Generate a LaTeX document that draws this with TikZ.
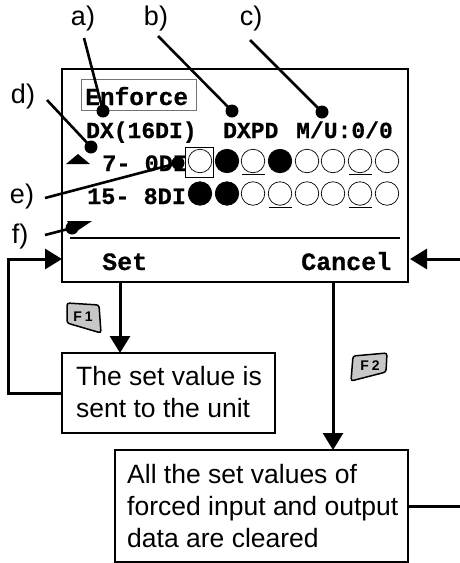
\documentclass[tikz,border=0pt]{standalone}
\usepackage{fontspec}
\setmainfont{Liberation Sans}
\newfontfamily\lcdfont{Liberation Mono}[BoldFeatures={FakeBold=0.6}]
\usetikzlibrary{arrows.meta}
\tikzset{
  x=1pt,y=-1pt,
  lab/.style={inner sep=0pt,font=\fontsize{27}{27}\selectfont},
  lcd/.style={inner sep=0pt,anchor=base west,font=\lcdfont\bfseries\fontsize{23}{23}\selectfont},
  lcdrow/.style={inner sep=0pt,anchor=base west,font=\lcdfont\bfseries\fontsize{23.5}{23.5}\selectfont},
  softkey/.style={inner sep=0pt,anchor=base west,font=\lcdfont\bfseries\fontsize{25}{25}\selectfont},
  msg/.style={inner sep=0pt,anchor=base west,font=\fontsize{26.5}{26.5}\selectfont},
  frame/.style={draw=black,line width=2.2pt,fill=white,outer sep=0pt},
  flow/.style={line width=3pt,-{Triangle[length=17pt,width=20pt]}},
  plain/.style={line width=3pt},
  leader/.style={line width=2.6pt},
  dotmark/.style={circle,fill=black,inner sep=0pt,minimum size=13pt},
  led/.style={circle,draw=black,line width=0.7pt,fill=white,inner sep=0pt,minimum size=23.5pt},
  ledon/.style={led,fill=black},
  uline/.style={line width=1pt},
  keycap/.style={draw=black,line width=1.5pt,fill=black!22,rounded corners=2.5pt},
  keytext/.style={inner sep=0pt,font=\bfseries\fontsize{14}{14}\selectfont},
}
\begin{document}
\begin{tikzpicture}
\useasboundingbox (0,0) rectangle (460,563);
% screen
\node[frame,anchor=north west,minimum width=346pt,minimum height=213pt,inner sep=0pt] (screen) at (62,69) {};
\node[draw=black!55,line width=0.9pt,anchor=north west,minimum width=115pt,minimum height=31pt,inner sep=0pt,outer sep=0pt] (enfbox) at (81,79) {};
\node[lcd,font=\lcdfont\bfseries\fontsize{24.5}{24.5}\selectfont] (enforce) at (85,105) {Enforce};
\node[lcd] (dx) at (86,138) {DX(16DI)};
\node[lcd] (dxpd) at (223,138) {DXPD};
\node[lcd] (mu) at (296,138) {M/U:0/0};
\node[lcdrow] (row1) at (88,171) {\ 7- 0DI};
\node[lcdrow] (row2) at (87,204) {15- 8DI};
% LEDs
\node[draw=black,line width=1pt,fill=white,minimum width=28pt,minimum height=30pt,inner sep=0pt] (cursor) at (199,162) {};
\foreach \n/\x/\s in {a/200/led,b/227/ledon,c/253/led,d/280/ledon,e/307/led,f/333/led,g/360/led,h/387/led}
  \node[\s] (r1\n) at (\x,161) {};
\foreach \n/\x/\s in {a/200/ledon,b/227/ledon,c/253/led,d/280/led,e/307/led,f/333/led,g/360/led,h/387/led}
  \node[\s] (r2\n) at (\x,193.5) {};
\draw[uline] (242,174) -- (265,174);
\draw[uline] (349,174) -- (372,174);
\draw[uline] (269,207) -- (292,207);
\draw[uline] (349,207) -- (372,207);
% scroll marks
\fill (66,164) -- (90,164) -- (78,154) -- cycle;
\fill (67,221) -- (92,221) -- (74,233) -- cycle;
\coordinate (hrl) at (70,238);
\coordinate (hrr) at (400,238);
\draw[line width=2.2pt] (hrl) -- (hrr);
\node[softkey] (set) at (102,270) {Set};
\node[softkey] (cancel) at (301,270) {Cancel};
% callouts
\node[lab] (la) at (83,19) {a)};
\node[lab] (lb) at (156,19) {b)};
\node[lab] (lc) at (251,19) {c)};
\node[lab] (ld) at (23,97) {d)};
\node[lab] (le) at (22,197) {e)};
\node[lab] (lf) at (20,237) {f)};
\node[dotmark] (da) at (103,111) {};
\node[dotmark] (db) at (232,111) {};
\node[dotmark] (dc) at (322,112) {};
\node[dotmark] (dd) at (91,147) {};
\node[dotmark] (de) at (178,163) {};
\node[dotmark] (df) at (72,228) {};
\coordinate (sa) at (84,38);
\coordinate (sb) at (158,36);
\coordinate (sc) at (250,40);
\coordinate (sd) at (47,100);
\coordinate (se) at (45,198);
\coordinate (sf) at (45,235);
\draw[leader] (sa) -- (da.center);
\draw[leader] (sb) -- (db.center);
\draw[leader] (sc) -- (dc.center);
\draw[leader] (sd) -- (dd.center);
\draw[leader] (se) -- (de.center);
\draw[leader] (sf) -- (df.center);
% message boxes
\node[frame,anchor=north west,minimum width=213pt,minimum height=80pt,inner sep=0pt] (box1) at (62,353) {};
\node[msg] (t1a) at (76,385) {The set value is};
\node[msg] (t1b) at (76,417) {sent to the unit};
\node[frame,anchor=north west,minimum width=293pt,minimum height=112pt,inner sep=0pt] (box2) at (115,450) {};
\node[msg] (t2a) at (127,483) {All the set values of};
\node[msg] (t2b) at (127,515) {forced input and output};
\node[msg] (t2c) at (127,547) {data are cleared};
% keys
\draw[keycap] (67,303) -- (99,305) -- (101,333) -- (67,323) -- cycle;
\node[keytext] (f1) at (83,317) {F\hspace{3pt}1};
\draw[keycap] (353,356) -- (387,353) -- (386,372) -- (351,381) -- cycle;
\node[keytext] (f2) at (370,366) {F\hspace{3pt}2};
% connectors
\coordinate (lt) at (8,259);
\coordinate (re) at (460,259);
\draw[flow] (120,282) -- (120,353);
\draw[flow] (333,282) -- (333,450);
\draw[flow] (box1.west) -- (box1.west -| lt) -- (lt) -- (screen.west |- lt);
\draw[flow] (re) -- ([xshift=2pt]screen.east |- re);
\draw[plain] (box2.east) -- (box2.east -| re);
\end{tikzpicture}
\end{document}
